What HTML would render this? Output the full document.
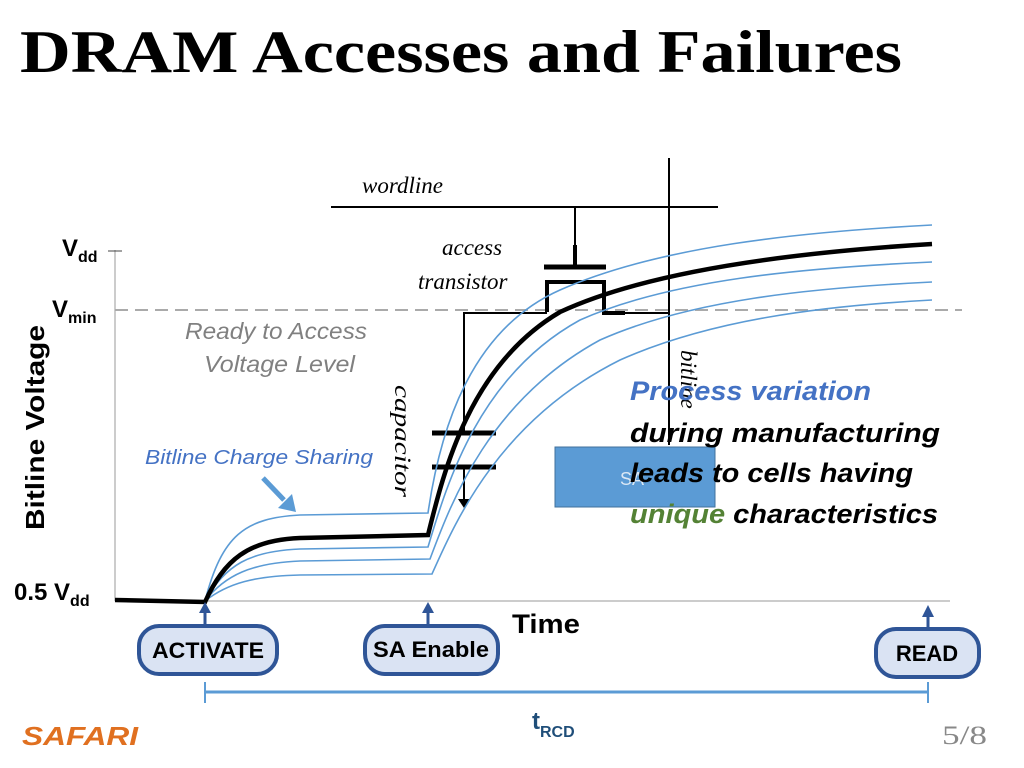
<!DOCTYPE html>
<html><head><style>
body{margin:0;width:1024px;height:768px;background:#fff;overflow:hidden;font-family:"Liberation Sans",sans-serif}
svg{position:absolute;left:0;top:0}
</style></head><body>
<svg width="1024" height="768" viewBox="0 0 1024 768">
<text x="20" y="72" font-family="Liberation Serif" font-weight="bold" font-size="60" fill="#000" textLength="882" lengthAdjust="spacingAndGlyphs">DRAM Accesses and Failures</text>
<!-- axes -->
<line x1="115" y1="250" x2="115" y2="601" stroke="#999" stroke-width="1"/>
<line x1="108" y1="251" x2="122" y2="251" stroke="#444" stroke-width="1"/>
<line x1="115" y1="601" x2="950" y2="601" stroke="#999" stroke-width="1"/>
<line x1="115" y1="310" x2="962" y2="310" stroke="#aaa" stroke-width="2" stroke-dasharray="13,7"/>
<!-- circuit -->
<g stroke="#000" fill="none">
<line x1="331" y1="207" x2="718" y2="207" stroke-width="2"/>
<line x1="669" y1="158" x2="669" y2="445" stroke-width="2"/>
<line x1="575" y1="207" x2="575" y2="268" stroke-width="2"/>
<line x1="575" y1="245" x2="575" y2="268" stroke-width="4"/>
<line x1="544" y1="267" x2="606" y2="267" stroke-width="5"/>
<polyline points="547,312 547,282 604,282 604,313 625,313" stroke-width="4"/>
<polyline points="625,313 669,313" stroke-width="2"/>
<polyline points="547,313 464,313 464,433" stroke-width="2"/>
<line x1="432" y1="433" x2="496" y2="433" stroke-width="5"/>
<line x1="432" y1="467" x2="496" y2="467" stroke-width="5"/>
<line x1="464" y1="467" x2="464" y2="502" stroke-width="2"/>
</g>
<polygon points="458,499 470,499 464,508" fill="#000"/>
<!-- SA box -->
<rect x="555" y="447" width="160" height="60" fill="#5b9bd5" stroke="#41719c" stroke-width="1"/>
<text x="620" y="485" font-size="18" fill="#dbe8f5">SA</text>
<!-- curves -->
<g fill="none" stroke="#5b9bd5" stroke-width="1.6">
<path d="M205,601 C222,535 245,518 300,515 L428,513 C440,430 470,330 560,290 C660,246 800,232 932,225"/>
<path d="M205,601 C225,565 250,551 300,549 L428,547 C448,480 480,375 580,320 C670,280 800,268 932,262"/>
<path d="M205,601 C225,575 252,563 300,561 L430,559 C452,500 490,400 600,340 C690,300 810,288 932,282"/>
<path d="M205,601 C228,583 255,576 300,575 L432,574 C456,520 500,420 620,360 C710,320 820,306 932,300"/>
</g>
<path d="M115,600 L205,602 C224,560 248,540 300,538 L428,535 C444,470 470,365 560,312 C650,270 800,252 932,244" fill="none" stroke="#000" stroke-width="4.5"/>
<!-- labels -->
<g font-family="Liberation Serif" font-style="italic" font-size="23" fill="#000">
<text x="362" y="193">wordline</text>
<text x="442" y="255">access</text>
<text x="418" y="289">transistor</text>
<text transform="translate(395,385) rotate(90)" textLength="112" lengthAdjust="spacingAndGlyphs">capacitor</text>
<text transform="translate(681,350) rotate(90)">bitline</text>
</g>
<text x="62" y="256" font-weight="bold" font-size="24">V<tspan font-size="16" dy="6">dd</tspan></text>
<text x="52" y="317" font-weight="bold" font-size="24">V<tspan font-size="16" dy="6">min</tspan></text>
<text x="14" y="600" font-weight="bold" font-size="24">0.5 V<tspan font-size="16" dy="6">dd</tspan></text>
<text transform="translate(44,530) rotate(-90)" font-weight="bold" font-size="26" textLength="205" lengthAdjust="spacingAndGlyphs">Bitline Voltage</text>
<g font-style="italic" font-size="23" fill="#808080">
<text x="185" y="339" textLength="182" lengthAdjust="spacingAndGlyphs">Ready to Access</text>
<text x="204" y="372" textLength="151" lengthAdjust="spacingAndGlyphs">Voltage Level</text>
</g>
<text x="145" y="464" font-style="italic" font-size="20" fill="#4472c4" textLength="228" lengthAdjust="spacingAndGlyphs">Bitline Charge Sharing</text>
<line x1="263" y1="478" x2="284" y2="500" stroke="#5b9bd5" stroke-width="5"/>
<polygon points="278,508 296,512 292,494" fill="#5b9bd5"/>
<g font-style="italic" font-weight="bold" font-size="27" lengthAdjust="spacingAndGlyphs">
<text x="630" y="400" fill="#4472c4" textLength="241" lengthAdjust="spacingAndGlyphs">Process variation</text>
<text x="630" y="442" fill="#000" textLength="310" lengthAdjust="spacingAndGlyphs">during manufacturing</text>
<text x="630" y="482" fill="#000" textLength="283" lengthAdjust="spacingAndGlyphs">leads to cells having</text>
<text x="630" y="523" textLength="308" lengthAdjust="spacingAndGlyphs"><tspan fill="#548235">unique</tspan><tspan fill="#000"> characteristics</tspan></text>
</g>
<text x="512" y="633" font-weight="bold" font-size="27" textLength="68" lengthAdjust="spacingAndGlyphs">Time</text>
<!-- arrows -->
<g stroke="#2f5597" stroke-width="3" fill="#2f5597">
<line x1="205" y1="626" x2="205" y2="612"/><polygon points="199,613 211,613 205,602" stroke="none"/>
<line x1="428" y1="626" x2="428" y2="612"/><polygon points="422,613 434,613 428,602" stroke="none"/>
<line x1="928" y1="629" x2="928" y2="616"/><polygon points="922,617 934,617 928,605" stroke="none"/>
</g>
<g fill="#dae3f3" stroke="#2f5597" stroke-width="4">
<rect x="139" y="626" width="138" height="48" rx="20"/>
<rect x="365" y="626" width="133" height="48" rx="20"/>
<rect x="876" y="629" width="103" height="48" rx="20"/>
</g>
<g font-weight="bold" font-size="22" text-anchor="middle">
<text x="208" y="658" textLength="112" lengthAdjust="spacingAndGlyphs">ACTIVATE</text>
<text x="431" y="657" textLength="116" lengthAdjust="spacingAndGlyphs">SA Enable</text>
<text x="927" y="661">READ</text>
</g>
<g stroke="#5b9bd5" stroke-width="3">
<line x1="205" y1="692" x2="928" y2="692"/>
<line x1="205" y1="682" x2="205" y2="703" stroke-width="2"/>
<line x1="928" y1="682" x2="928" y2="703" stroke-width="2"/>
</g>
<text x="532" y="729" font-weight="bold" font-size="24" fill="#1f4e79">t<tspan font-size="16" dy="8">RCD</tspan></text>
<text x="22" y="745" font-weight="bold" font-style="italic" font-size="26" fill="#e07020" textLength="116" lengthAdjust="spacingAndGlyphs">SAFARI</text>
<text x="942" y="744" font-family="Liberation Serif" font-size="26" fill="#888" textLength="45" lengthAdjust="spacingAndGlyphs">5/8</text>
</svg>
</body></html>
